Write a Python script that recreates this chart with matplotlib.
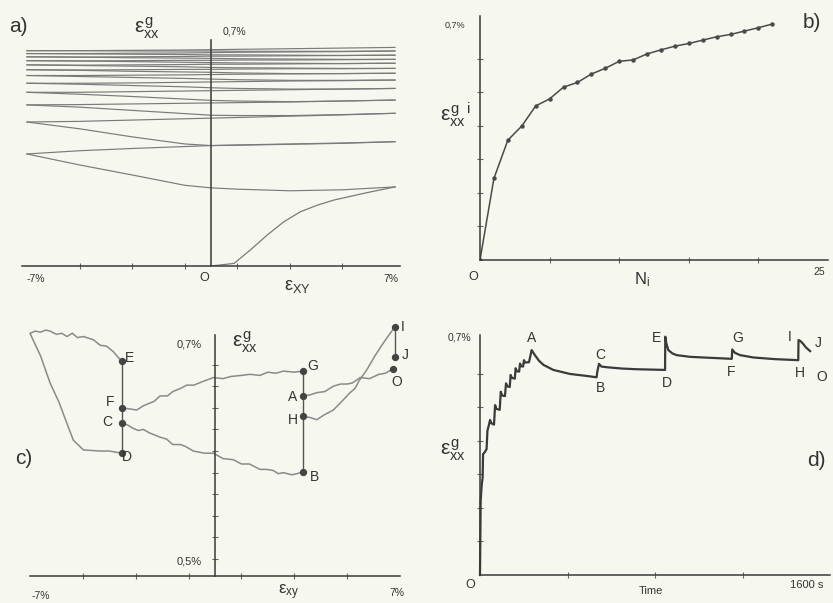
import numpy as np
import matplotlib
matplotlib.use("Agg")
import matplotlib.pyplot as plt

plt.rcParams['font.family'] = ['Liberation Sans', 'DejaVu Sans']
plt.rcParams['mathtext.fontset'] = 'custom'
plt.rcParams['mathtext.rm'] = 'Liberation Sans'
plt.rcParams['mathtext.it'] = 'Liberation Sans'
plt.rcParams['mathtext.sf'] = 'Liberation Sans'

# ---------------- panel a: eps_xx^g vs eps_xy, cyclic sweeps ----------------
a_first_x = [0, 0.88, 1.5, 2.14, 2.77, 3.4, 4.03, 4.66, 5.92, 7.0]
a_first_y = [0, 0.008, 0.05, 0.096, 0.137, 0.168, 0.188, 0.204, 0.227, 0.245]
a_left_x = [7, 5, 3, 1, 0, -1, -3, -5, -7]
a_left = [
    [0.245, 0.236, 0.233, 0.238, 0.242, 0.250, 0.282, 0.313, 0.347],
    [0.385, 0.380, 0.377, 0.374, 0.373, 0.378, 0.400, 0.425, 0.446],
    [0.473, 0.469, 0.466, 0.466, 0.467, 0.472, 0.482, 0.492, 0.499],
    [0.514, 0.511, 0.509, 0.511, 0.513, 0.517, 0.525, 0.532, 0.538],
    [0.550, 0.548, 0.548, 0.550, 0.552, 0.555, 0.559, 0.563, 0.566],
    [0.576, 0.575, 0.575, 0.577, 0.579, 0.581, 0.584, 0.587, 0.590],
    [0.597, 0.596, 0.596, 0.598, 0.600, 0.601, 0.603, 0.606, 0.608],
    [0.612, 0.612, 0.613, 0.614, 0.615, 0.617, 0.619, 0.621, 0.623],
    [0.628, 0.627, 0.628, 0.629, 0.630, 0.631, 0.633, 0.635, 0.636],
    [0.640, 0.640, 0.641, 0.642, 0.643, 0.644, 0.645, 0.647, 0.648],
    [0.653, 0.652, 0.653, 0.654, 0.654, 0.655, 0.656, 0.657, 0.658],
    [0.666, 0.665, 0.665, 0.665, 0.666, 0.666, 0.666, 0.667, 0.667],
]
a_right_x = [-7, -5, -3, -1, 0, 1, 3, 5, 7]
a_right = [
    [0.347, 0.357, 0.364, 0.370, 0.373, 0.375, 0.378, 0.381, 0.385],
    [0.446, 0.448, 0.452, 0.456, 0.458, 0.460, 0.464, 0.468, 0.473],
    [0.499, 0.500, 0.502, 0.504, 0.505, 0.506, 0.508, 0.511, 0.514],
    [0.538, 0.538, 0.540, 0.542, 0.543, 0.544, 0.546, 0.548, 0.550],
    [0.566, 0.566, 0.567, 0.569, 0.570, 0.571, 0.573, 0.574, 0.576],
    [0.590, 0.590, 0.591, 0.592, 0.593, 0.594, 0.595, 0.596, 0.597],
    [0.608, 0.607, 0.608, 0.609, 0.609, 0.610, 0.611, 0.611, 0.612],
    [0.623, 0.622, 0.623, 0.624, 0.625, 0.625, 0.626, 0.627, 0.628],
    [0.636, 0.635, 0.636, 0.637, 0.637, 0.638, 0.638, 0.639, 0.640],
    [0.648, 0.647, 0.648, 0.649, 0.650, 0.650, 0.651, 0.652, 0.653],
    [0.658, 0.658, 0.659, 0.660, 0.661, 0.662, 0.663, 0.664, 0.666],
    [0.667, 0.667, 0.668, 0.669, 0.670, 0.671, 0.673, 0.675, 0.677],
]

# ---------------- panel b: eps at end of each half cycle ----------------
b_n = list(range(22))
b_eps = [0, 0.243, 0.357, 0.399, 0.459, 0.480, 0.515, 0.529, 0.554, 0.571, 0.592,
         0.596, 0.614, 0.626, 0.637, 0.645, 0.655, 0.665, 0.672, 0.682, 0.692, 0.703]

# ---------------- panel c: path with relaxations ----------------
c_oa_x = [6.72, 6.45, 6.2, 5.85, 5.49, 5.2, 5.0, 4.75, 4.48, 4.15, 3.85, 3.6, 3.34]
c_oa_y = [0.676, 0.672, 0.671, 0.667, 0.668, 0.663, 0.662, 0.662, 0.660, 0.655, 0.654, 0.652, 0.651]
c_bc_x = [3.34, 3.1, 2.9, 2.59, 2.4, 2.2, 1.95, 1.7, 1.3, 1.0, 0.69, 0.3, -0.06,
          -0.4, -0.82, -1.1, -1.3, -1.6, -1.83, -2.1, -2.3, -2.5, -2.71, -2.9, -3.1, -3.3, -3.53]
c_bc_y = [0.581, 0.579, 0.578, 0.580, 0.579, 0.582, 0.583, 0.583, 0.588, 0.588, 0.592, 0.593, 0.598,
          0.598, 0.600, 0.604, 0.606, 0.606, 0.611, 0.613, 0.615, 0.617, 0.620, 0.619, 0.621, 0.624, 0.626]
c_de_x = [-3.53, -4.0, -4.35, -4.98, -5.36, -5.61, -5.9, -6.24, -6.6, -7.0,
          -6.8, -6.6, -6.4, -6.24, -6.0, -5.8, -5.6, -5.4, -5.2, -4.98, -4.6, -4.35, -4.1, -3.85, -3.53]
c_de_y = [0.598, 0.600, 0.600, 0.601, 0.610, 0.626, 0.645, 0.663, 0.688, 0.709,
          0.711, 0.710, 0.712, 0.711, 0.708, 0.709, 0.706, 0.709, 0.705, 0.706, 0.703, 0.698, 0.697, 0.692, 0.683]
c_fg_x = [-3.53, -2.96, -2.7, -2.5, -2.3, -2.08, -1.8, -1.6, -1.3, -1.07, -0.8, -0.5, -0.06,
          0.3, 0.6, 1.0, 1.32, 1.7, 2.0, 2.3, 2.59, 3.0, 3.34]
c_fg_y = [0.640, 0.638, 0.642, 0.644, 0.646, 0.651, 0.651, 0.655, 0.658, 0.661, 0.661, 0.664, 0.668,
          0.667, 0.669, 0.670, 0.671, 0.670, 0.673, 0.672, 0.674, 0.673, 0.674]
c_hi_x = [3.34, 3.6, 3.85, 4.1, 4.48, 4.8, 5.11, 5.3, 5.45, 5.74, 6.05, 6.37, 6.6, 6.81]
c_hi_y = [0.632, 0.631, 0.629, 0.633, 0.638, 0.646, 0.654, 0.658, 0.665, 0.675, 0.688, 0.700, 0.708, 0.715]
c_pts = ['E', 'F', 'C', 'D', 'G', 'A', 'H', 'B', 'I', 'J', 'O']
c_pts_x = [-3.53, -3.53, -3.53, -3.53, 3.34, 3.34, 3.34, 3.34, 6.81, 6.81, 6.72]
c_pts_y = [0.683, 0.640, 0.626, 0.598, 0.674, 0.651, 0.632, 0.581, 0.715, 0.687, 0.676]
c_lab_x = [-3.22, -3.97, -4.09, -3.33, 3.71, 2.95, 2.95, 3.78, 7.11, 7.19, 6.89]
c_lab_y = [0.686, 0.645, 0.627, 0.594, 0.679, 0.650, 0.629, 0.576, 0.715, 0.689, 0.664]

# ---------------- panel d: eps vs time ----------------
d_t = [0, 3, 8, 12, 14, 22, 30, 34, 40, 46,
       52, 64, 69, 75, 90, 95, 101, 114, 119, 125, 136, 140,
       146, 159, 163, 168, 179, 183, 188, 197, 201, 206, 224, 236,
       251, 270, 290, 335, 411, 488, 533,
       536, 544, 555, 579, 650, 716, 846,
       847, 852, 861, 880, 899, 960, 1021, 1151,
       1153, 1165, 1189, 1250, 1350, 1455,
       1456, 1465, 1478, 1490, 1509]
d_eps = [0, 0.22, 0.27, 0.29, 0.36, 0.366, 0.375, 0.43, 0.445, 0.462,
         0.452, 0.448, 0.506, 0.495, 0.492, 0.546, 0.535, 0.533, 0.571, 0.562, 0.560, 0.596,
         0.587, 0.585, 0.616, 0.607, 0.606, 0.630, 0.622, 0.621, 0.640, 0.633, 0.634, 0.670,
         0.655, 0.638, 0.626, 0.611, 0.599, 0.593, 0.589,
         0.605, 0.629, 0.621, 0.619, 0.615, 0.613, 0.611,
         0.710, 0.690, 0.670, 0.660, 0.655, 0.650, 0.648, 0.644,
         0.672, 0.662, 0.655, 0.648, 0.643, 0.640,
         0.700, 0.697, 0.688, 0.678, 0.667]
d_labels = ['A', 'B', 'C', 'D', 'E', 'F', 'G', 'H', 'I', 'J', 'O']
d_lab_t = [236, 549, 549, 853, 808, 1150, 1180, 1463, 1417, 1545, 1562]
d_lab_y = [0.705, 0.557, 0.655, 0.572, 0.706, 0.605, 0.706, 0.602, 0.709, 0.691, 0.590]

W, H = 833, 603
bg = '#f6f7ef'
axc = '#3a3a3a'
fig = plt.figure(figsize=(W / 100, H / 100), dpi=100, facecolor=bg)


def ptext(x, y, s, size=8, **kw):
    kw.setdefault('va', 'center')
    fig.text(x / W, 1 - y / H, s, fontsize=size, ha='center', color='#333333', **kw)


def frame(ax, xzero=None):
    ax.set_facecolor('none')
    for s in ['top', 'right']:
        ax.spines[s].set_visible(False)
    if xzero is not None:
        ax.spines['left'].set_position(('data', xzero))
    for s in ['left', 'bottom']:
        ax.spines[s].set_color(axc)
        ax.spines[s].set_linewidth(1.1)
    ax.tick_params(direction='inout', length=4, width=0.8, color='#666666',
                   labelbottom=False, labelleft=False)


# a)
ax = fig.add_axes([21.7 / W, 1 - 266 / H, 378.6 / W, 226 / H])
ax.set_xlim(-7.2, 7.2)
ax.set_ylim(0, 0.7)
frame(ax, 0)
ax.set_xticks([-5, -3, -1, 1, 3, 5])
ax.set_yticks([])
lc = '#7a7a7a'
ax.plot(a_first_x, a_first_y, color=lc, lw=0.9)
for yy in a_left:
    ax.plot(a_left_x, yy, color=lc, lw=0.85)
for yy in a_right:
    ax.plot(a_right_x, yy, color=lc, lw=0.85)
ptext(18, 27, 'a)', 15)
ptext(147, 28, r'$\varepsilon^{g}_{xx}$', 15)
ptext(234, 32, '0,7%', 7.5)
ptext(36, 279, '-7%', 7.5)
ptext(204, 278, 'O', 9)
ptext(297, 286, r'$\varepsilon_{XY}$', 13)
ptext(391, 279, '7%', 7.5)

# b)
ax = fig.add_axes([480 / W, 1 - 260 / H, 348 / W, 243.7 / H])
ax.set_xlim(0, 25)
ax.set_ylim(0, 0.726)
frame(ax)
ax.set_xticks([5, 10, 15, 20])
ax.set_yticks([0.1, 0.2, 0.3, 0.4, 0.5, 0.6])
ax.plot(b_n, b_eps, color='#4a4a4a', lw=1.1, marker='o', ms=2.2,
        mfc='#4a4a4a', mec='#4a4a4a')
ptext(455, 25, '0,7%', 6.5)
ptext(455, 115, r'$\varepsilon^{g\ \ i}_{xx}$', 15)
ptext(812, 23, 'b)', 15)
ptext(473, 277, 'O', 9)
ptext(642, 280, r'$\mathrm{N}_{i}$', 12)
ptext(819, 272, '25', 7.5)

# c)
ax = fig.add_axes([30 / W, 27 / H, 370 / W, 241 / H])
ax.set_xlim(-7, 7)
ax.set_ylim(0.4843, 0.7074)
frame(ax, 0)
ax.set_xticks([-5, -3, -1, 1, 3, 5])
ax.set_yticks([0.5, 0.52, 0.54, 0.56, 0.58, 0.6, 0.62, 0.64, 0.66, 0.68])
cc = '#8a8a8a'
for xs, ys in [(c_oa_x, c_oa_y), (c_bc_x, c_bc_y), (c_de_x, c_de_y),
               (c_fg_x, c_fg_y), (c_hi_x, c_hi_y)]:
    ax.plot(xs, ys, color=cc, lw=1.1, clip_on=False)
ax.plot([c_pts_x[3], c_pts_x[0]], [c_pts_y[3], c_pts_y[0]], color='#555555', lw=1.0)
ax.plot([c_pts_x[7], c_pts_x[4]], [c_pts_y[7], c_pts_y[4]], color='#555555', lw=1.0)
ax.plot([c_pts_x[9], c_pts_x[8]], [c_pts_y[9], c_pts_y[8]], color='#555555', lw=1.0, clip_on=False)
ax.scatter(c_pts_x, c_pts_y, s=18, color='#444444', zorder=3, clip_on=False)
for lab, lx, ly in zip(c_pts, c_lab_x, c_lab_y):
    ax.text(lx, ly, lab, fontsize=10, ha='center', va='center', color='#333333', clip_on=False)
ptext(245, 342, r'$\varepsilon^{g}_{xx}$', 15)
ptext(189, 345, '0,7%', 8)
ptext(189, 561, '0,5%', 8)
ptext(24, 458, 'c)', 15)
ptext(41, 596, '-7%', 7.5)
ptext(289, 602, r'$\varepsilon_{xy}$', 12, va='bottom')
ptext(397, 593, '7%', 7.5)

# d)
ax = fig.add_axes([480 / W, 28 / H, 350 / W, 240 / H])
ax.set_xlim(0, 1600)
ax.set_ylim(0, 0.715)
frame(ax)
ax.set_xticks([400, 800, 1200])
ax.set_yticks([0.1, 0.2, 0.3, 0.4, 0.5, 0.6])
ax.plot(d_t, d_eps, color='#3a3a3a', lw=1.6, clip_on=False)
for lab, lx, ly in zip(d_labels, d_lab_t, d_lab_y):
    ax.text(lx, ly, lab, fontsize=10, ha='center', va='center', color='#333333', clip_on=False)
ptext(459, 338, '0,7%', 7.5)
ptext(453, 450, r'$\varepsilon^{g}_{xx}$', 15)
ptext(816, 460, 'd)', 15)
ptext(470, 585, 'O', 9)
ptext(651, 591, 'Time', 8)
ptext(807, 585, '1600 s', 8)

fig.savefig('out.png', dpi=100, facecolor=bg)
